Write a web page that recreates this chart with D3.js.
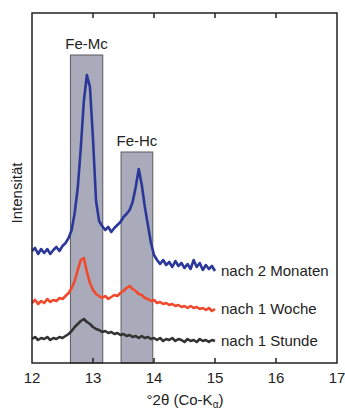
<!DOCTYPE html>
<html>
<head>
<meta charset="utf-8">
<script src="https://cdn.jsdelivr.net/npm/d3@7"></script>
<style>
  html, body { margin: 0; padding: 0; background: #fff; }
  svg { display: block; }
</style>
</head>
<body>
<div id="chart"></div>
<script>
  // 2theta grid (deg, Co-K alpha)
  const ANGLES = [
    12.00, 12.05, 12.10, 12.15, 12.20, 12.25, 12.30, 12.35, 12.40, 12.45,
    12.50, 12.55, 12.60, 12.65, 12.70, 12.75, 12.80, 12.85, 12.90, 12.95,
    13.00, 13.05, 13.10, 13.15, 13.20, 13.25, 13.30, 13.35, 13.40, 13.45,
    13.50, 13.55, 13.60, 13.65, 13.70, 13.75, 13.80, 13.85, 13.90, 13.95,
    14.00, 14.05, 14.10, 14.15, 14.20, 14.25, 14.30, 14.35, 14.40, 14.45,
    14.50, 14.55, 14.60, 14.65, 14.70, 14.75, 14.80, 14.85, 14.90, 14.95,
    15.00
  ];

  // intensities (arb. units, stacked offsets included)
  const MONATE = [
    112, 115, 109, 114, 110, 114, 109, 113, 116, 112,
    117, 120, 125, 133, 150, 175, 215, 262, 288, 276,
    224, 162, 142, 137, 133, 136, 131, 135, 138, 141,
    146, 149, 153, 161, 176, 194, 178, 156, 138, 120,
    108, 103, 99, 103, 98, 101, 96, 102, 97, 100,
    95, 99, 94, 103, 96, 100, 93, 98, 94, 97,
    92
  ];
  const WOCHE = [
    60, 63, 59, 62, 60, 64, 61, 63, 62, 65,
    64, 67, 70, 75, 82, 93, 103, 105, 91, 80,
    73, 69, 67, 65, 67, 64, 66, 68, 67, 70,
    72, 75, 77, 74, 72, 69, 68, 65, 64, 62,
    63, 60, 61, 59, 60, 58, 59, 57, 58, 56,
    57, 55, 57, 55, 56, 54, 55, 53, 55, 52,
    54
  ];
  const STUNDE = [
    24, 26, 23, 25, 24, 26, 23, 25, 24, 26,
    25, 27, 29, 32, 36, 39, 42, 44, 41, 39,
    36, 34, 33, 31, 32, 30, 31, 29, 30, 28,
    29, 27, 28, 26, 27, 25, 27, 25, 26, 24,
    25, 23, 25, 22, 24, 23, 25, 22, 24, 23,
    21, 24, 22, 23, 21, 24, 22, 23, 21, 23,
    22
  ];

  const SERIES_NAMES = ['nach 2 Monaten', 'nach 1 Woche', 'nach 1 Stunde'];
  const SERIES_VALUES = [MONATE, WOCHE, STUNDE];
  const SERIES_COLORS = ['#2b3799', '#f2492c', '#333333'];

  const BAND_LABELS = ['Fe-Mc', 'Fe-Hc'];
  const BAND_FROM = [12.63, 13.46];
  const BAND_TO = [13.16, 13.98];
  const BAND_TOP = [308, 211];

  const X_TICKS = [12, 13, 14, 15, 16, 17];

  const W = 345, H = 412;
  const margin = { top: 13, right: 8, bottom: 49, left: 32 };
  const TEXT = '#222';
  const FONT = 'Liberation Sans, Arial, sans-serif';

  const svg = d3.select('#chart').append('svg')
    .attr('width', W).attr('height', H)
    .attr('viewBox', `0 0 ${W} ${H}`);

  const x = d3.scaleLinear().domain([12, 17]).range([margin.left, W - margin.right]);
  const y = d3.scaleLinear().domain([0, 350]).range([H - margin.bottom, margin.top]);

  // --- peak bands ---
  BAND_LABELS.forEach((lab, i) => {
    svg.append('rect')
      .attr('x', x(BAND_FROM[i])).attr('y', y(BAND_TOP[i]))
      .attr('width', x(BAND_TO[i]) - x(BAND_FROM[i]))
      .attr('height', y(0) - y(BAND_TOP[i]))
      .attr('fill', '#a9abba')
      .attr('stroke', '#5a5a60').attr('stroke-width', 1);

    svg.append('text')
      .attr('x', (x(BAND_FROM[i]) + x(BAND_TO[i])) / 2)
      .attr('y', y(BAND_TOP[i]) - 6)
      .attr('text-anchor', 'middle')
      .attr('font-family', FONT).attr('font-size', 15)
      .attr('fill', TEXT)
      .text(lab);
  });

  // --- diffraction patterns ---
  const line = d3.line()
    .x((d, i) => x(ANGLES[i]))
    .y(d => y(d));

  SERIES_VALUES.forEach((vals, s) => {
    svg.append('path')
      .datum(vals)
      .attr('d', line)
      .attr('fill', 'none')
      .attr('stroke', SERIES_COLORS[s])
      .attr('stroke-width', 2.6)
      .attr('stroke-linejoin', 'round');

    svg.append('text')
      .attr('x', x(ANGLES[ANGLES.length - 1]) + 6)
      .attr('y', y(vals[vals.length - 1]) + 5)
      .attr('font-family', FONT).attr('font-size', 15)
      .attr('fill', TEXT)
      .text(SERIES_NAMES[s]);
  });

  // --- frame + ticks ---
  svg.append('rect')
    .attr('x', margin.left).attr('y', margin.top)
    .attr('width', W - margin.left - margin.right)
    .attr('height', H - margin.top - margin.bottom)
    .attr('fill', 'none')
    .attr('stroke', '#222').attr('stroke-width', 1.5);

  const inner = X_TICKS.slice(1, -1);
  svg.append('g').selectAll('line.top').data(inner).join('line')
    .attr('x1', d => x(d)).attr('x2', d => x(d))
    .attr('y1', margin.top).attr('y2', margin.top + 5)
    .attr('stroke', '#222').attr('stroke-width', 1.5);
  svg.append('g').selectAll('line.bot').data(inner).join('line')
    .attr('x1', d => x(d)).attr('x2', d => x(d))
    .attr('y1', H - margin.bottom).attr('y2', H - margin.bottom - 5)
    .attr('stroke', '#222').attr('stroke-width', 1.5);

  svg.append('g').selectAll('text').data(X_TICKS).join('text')
    .attr('x', d => x(d)).attr('y', H - margin.bottom + 20)
    .attr('text-anchor', 'middle')
    .attr('font-family', FONT).attr('font-size', 15)
    .attr('fill', TEXT)
    .text(d => d);

  // --- axis titles ---
  const xt = svg.append('text')
    .attr('x', 185).attr('y', H - 7)
    .attr('text-anchor', 'middle')
    .attr('font-family', FONT).attr('font-size', 15)
    .attr('fill', TEXT);
  xt.append('tspan').text('°2θ (Co-K');
  xt.append('tspan').attr('font-size', 10).attr('dy', 3).text('α');
  xt.append('tspan').attr('dy', -3).text(')');

  svg.append('text')
    .attr('transform', `translate(22,${(margin.top + H - margin.bottom) / 2 + 5}) rotate(-90)`)
    .attr('text-anchor', 'middle')
    .attr('font-family', FONT).attr('font-size', 15)
    .attr('fill', TEXT)
    .text('Intensität');
</script>
</body>
</html>
